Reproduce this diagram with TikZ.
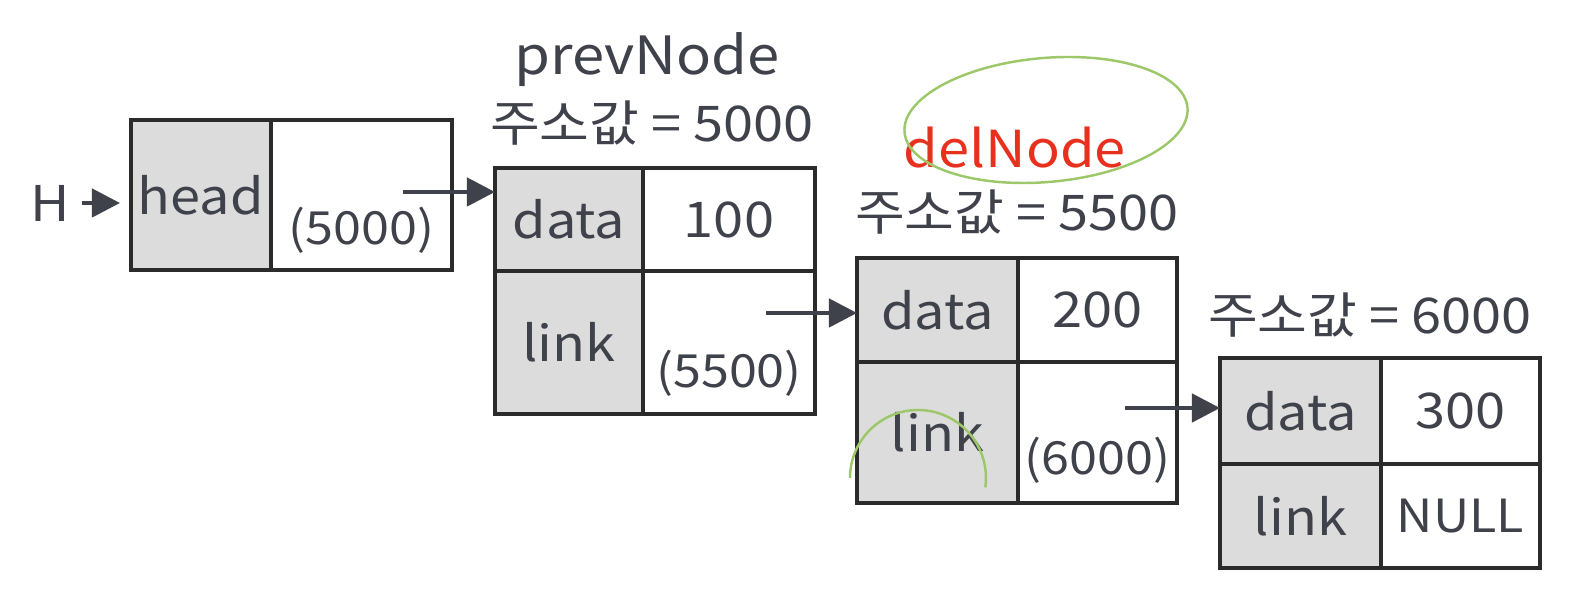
\documentclass[tikz,border=0pt]{standalone}
\usepackage{fontspec}
\setmainfont[FakeStretch=1.1]{Noto Sans CJK KR}
\usetikzlibrary{arrows.meta, positioning}
\definecolor{inkgray}{HTML}{3F424A}
\definecolor{cellgray}{HTML}{DCDCDC}
\definecolor{boxline}{HTML}{2B2B2B}
\definecolor{penred}{HTML}{E8301E}
\definecolor{pengreen}{HTML}{9CC86A}

\begin{document}
\begin{tikzpicture}[every node/.style={font=\fontsize{14}{16}\selectfont, text=inkgray},
    keycell/.style={draw=boxline, fill=cellgray, line width=1pt, inner sep=0pt, outer sep=0pt},
    valcell/.style={draw=boxline, fill=white, line width=1pt, inner sep=0pt, outer sep=0pt},
    addrtxt/.style={font=\fontsize{13}{15}\selectfont},
    ptr/.style={-{Triangle[length=8pt, width=8pt]}, line width=1.3pt, draw=inkgray},
    pen/.style={draw=pengreen, line width=0.7pt}]

    \useasboundingbox (0,0) rectangle (15.70,5.98);

    % head
    \node (H) at (0.50,3.95) {H};
    \node[keycell, minimum width=1.40cm, minimum height=1.50cm] (hkey) at (2.01,4.03) {head};
    \node[valcell, minimum width=1.81cm, minimum height=1.50cm, right=0pt of hkey] (hval) {};
    \node[addrtxt] (hptr) at ([yshift=-0.35cm]hval.center) {(5000)};

    % prevNode
    \node[font=\fontsize{15}{17}\selectfont] (prevlbl) at (6.47,5.38) {prevNode};
    \node (addr1) at (6.52,4.75) {주소값 = 5000};
    \node[keycell, minimum width=1.48cm, minimum height=1.03cm] (k1data) at (5.69,3.785) {data};
    \node[valcell, minimum width=1.72cm, minimum height=1.03cm, right=0pt of k1data] (v1data) {100};
    \node[keycell, minimum width=1.48cm, minimum height=1.43cm, below=0pt of k1data] (k1link) {link};
    \node[valcell, minimum width=1.72cm, minimum height=1.43cm, right=0pt of k1link] (v1link) {};
    \node[addrtxt] (v1ptr) at ([yshift=-0.305cm]v1link.center) {(5500)};

    % delNode
    \node[text=penred, font=\fontsize{14.5}{17}\selectfont] (dellbl) at (10.15,4.50) {delNode};
    \node (addr2) at (10.17,3.86) {주소값 = 5500};
    \node[keycell, minimum width=1.61cm, minimum height=1.04cm] (k2data) at (9.375,2.88) {data};
    \node[valcell, minimum width=1.59cm, minimum height=1.04cm, right=0pt of k2data] (v2data) {200};
    \node[keycell, minimum width=1.61cm, minimum height=1.41cm, below=0pt of k2data] (k2link) {link};
    \node[valcell, minimum width=1.59cm, minimum height=1.41cm, right=0pt of k2link] (v2link) {};
    \node[addrtxt] (v2ptr) at ([yshift=-0.275cm]v2link.center) {(6000)};

    % last node
    \node (addr3) at (13.70,2.83) {주소값 = 6000};
    \node[keycell, minimum width=1.61cm, minimum height=1.06cm] (k3data) at (13.005,1.87) {data};
    \node[valcell, minimum width=1.59cm, minimum height=1.06cm, right=0pt of k3data] (v3data) {300};
    \node[keycell, minimum width=1.61cm, minimum height=1.04cm, below=0pt of k3data] (k3link) {link};
    \node[valcell, addrtxt, minimum width=1.59cm, minimum height=1.04cm, right=0pt of k3link] (v3link) {NULL};

    % links
    \draw[ptr, shorten >=0.11cm] (H) -- (H -| hkey.west);
    \coordinate (p0) at (4.03,4.06);
    \draw[ptr] (p0) -- (p0 -| k1data.west);
    \coordinate (p1) at (7.66,2.85);
    \draw[ptr] (p1) -- (p1 -| k2data.west);
    \coordinate (p2) at (11.25,1.90);
    \draw[ptr] (p2) -- (p2 -| k3data.west);

    % pen marks
    \draw[pen, rotate around={5:(10.46,4.78)}] (10.46,4.78) ellipse [x radius=1.42, y radius=0.62];
    \draw[pen] (8.50,1.20) arc[start angle=180, end angle=-8, radius=0.68];

\end{tikzpicture}
\end{document}
